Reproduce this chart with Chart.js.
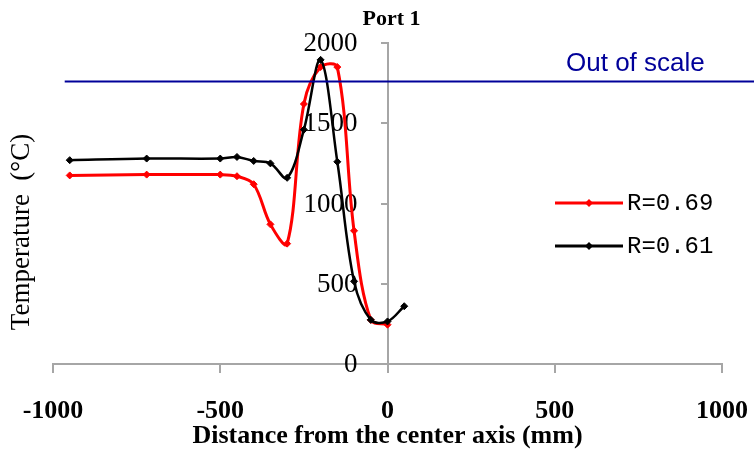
<!DOCTYPE html>
<html>
<head>
<meta charset="utf-8">
<script src="https://cdn.jsdelivr.net/npm/chart.js@4.4.1/dist/chart.umd.min.js"></script>
<style>
  html, body { margin: 0; padding: 0; background: #fff; }
  #wrap { position: relative; width: 754px; height: 453px; }
</style>
</head>
<body>
<div id="wrap"><canvas id="port-1"></canvas></div>
<script>
// Values (distance in mm, temperature in C)
const xR069 = [-950, -720, -500, -450, -400, -350, -300, -250, -200, -150, -100, -50, 0];
const tR069 = [1175, 1180, 1180, 1170, 1120, 870, 750, 1620, 1850, 1850, 830, 275, 245];
const xR061 = [-950, -720, -500, -450, -400, -350, -300, -250, -200, -150, -100, -50, 0, 50];
const tR061 = [1270, 1280, 1280, 1290, 1265, 1250, 1160, 1460, 1895, 1260, 515, 275, 265, 360];
const seriesLabels = ['R=0.69', 'R=0.61'];
const xTicks = [-1000, -500, 0, 500, 1000];
const yTicks = [0, 500, 1000, 1500, 2000];
const outOfScale = 1760;

const toPoints = (xs, ys) => xs.map((v, i) => ({ x: v, y: ys[i] }));
const axisGray = '#a6a6a6';
const serif = '"Liberation Serif", "Times New Roman", serif';

// Y tick labels sit well to the left of the centred axis, under the curves
const yLabels = {
  id: 'yLabels',
  beforeDatasetsDraw(c) {
    const { ctx } = c;
    const { x, y } = c.scales;
    const left = x.getPixelForValue(0) - 30;
    ctx.save();
    ctx.fillStyle = '#000';
    ctx.font = `27px ${serif}`;
    ctx.textAlign = 'right';
    ctx.textBaseline = 'middle';
    y.ticks.forEach((t) => {
      ctx.fillText(String(t.value), left, y.getPixelForValue(t.value) + 1);
    });
    ctx.restore();
  },
};

// Title, axis title, "out of scale" line and legend drawn on top
const overlay = {
  id: 'overlay',
  afterDraw(c) {
    const { ctx, chartArea } = c;
    const { x, y } = c.scales;
    ctx.save();
    ctx.fillStyle = '#000';
    ctx.textBaseline = 'middle';
    ctx.textAlign = 'center';
    ctx.font = `bold 22px ${serif}`;
    ctx.fillText('Port 1', (chartArea.left + chartArea.right) / 2 + 4, 19);

    // Out of scale marker
    const yLine = y.getPixelForValue(outOfScale);
    ctx.strokeStyle = '#000099';
    ctx.lineWidth = 2;
    ctx.beginPath();
    ctx.moveTo(x.getPixelForValue(-965), yLine);
    ctx.lineTo(c.width, yLine);
    ctx.stroke();
    ctx.fillStyle = '#000099';
    ctx.textAlign = 'left';
    ctx.font = '26px "Liberation Sans", Arial, sans-serif';
    ctx.fillText('Out of scale', 566, 64);

    // Legend
    ctx.font = '24px "Liberation Mono", "Courier New", monospace';
    c.data.datasets.forEach((ds, i) => {
      const ly = 203 + i * 43;
      ctx.strokeStyle = ds.borderColor;
      ctx.fillStyle = ds.borderColor;
      ctx.lineWidth = 3;
      ctx.beginPath();
      ctx.moveTo(555, ly);
      ctx.lineTo(623, ly);
      ctx.stroke();
      ctx.beginPath();
      ctx.moveTo(589, ly - 4);
      ctx.lineTo(593, ly);
      ctx.lineTo(589, ly + 4);
      ctx.lineTo(585, ly);
      ctx.closePath();
      ctx.fill();
      ctx.fillStyle = '#000';
      ctx.fillText(ds.label, 627, ly + 1);
    });

    // Y axis title
    ctx.translate(22, 232);
    ctx.rotate(-Math.PI / 2);
    ctx.textAlign = 'center';
    ctx.fillStyle = '#000';
    ctx.font = `27px ${serif}`;
    ctx.fillText('Temperature  (\u00B0C)', 0, 0);
    ctx.restore();
  },
};

const ctx = document.getElementById('port-1');
// eslint-disable-next-line no-unused-vars
const chart = new Chart(ctx, {
  type: 'line',
  data: {
    datasets: [
      // Red curve
      {
        label: seriesLabels[0],
        data: toPoints(xR069, tR069),
        borderColor: '#ff0000',
        backgroundColor: '#ff0000',
        borderWidth: 3,
        pointStyle: 'rectRot',
        pointRadius: 3.5,
        pointBorderWidth: 1,
        tension: 0.35,
        order: 2,
      },
      // Black curve
      {
        label: seriesLabels[1],
        data: toPoints(xR061, tR061),
        borderColor: '#000000',
        backgroundColor: '#000000',
        borderWidth: 2.5,
        pointStyle: 'rectRot',
        pointRadius: 3.5,
        pointBorderWidth: 1,
        tension: 0.35,
        order: 1,
      },
    ],
  },
  options: {
    responsive: true,
    maintainAspectRatio: false,
    animation: false,
    layout: {
      padding: { top: 43, left: 53, right: 32, bottom: 0 },
    },
    scales: {
      x: {
        type: 'linear',
        min: -1000,
        max: 1000,
        afterBuildTicks: (s) => { s.ticks = xTicks.map((v) => ({ value: v })); },
        afterFit: (s) => {
          s.height = 89;
          s.paddingLeft = 0;
          s.paddingRight = 0;
        },
        grid: {
          drawOnChartArea: false,
          tickLength: 9,
          color: axisGray,
          lineWidth: 2,
        },
        border: { color: axisGray, width: 2 },
        ticks: {
          padding: 23,
          color: '#000',
          maxRotation: 0,
          autoSkip: false,
          callback: (v) => String(v),
          font: { family: serif, size: 26, weight: 'bold' },
        },
        title: {
          display: true,
          text: 'Distance from the center axis (mm)',
          color: '#000',
          font: { family: serif, size: 26, weight: 'bold' },
          padding: { top: 0, bottom: 1 },
        },
      },
      y: {
        position: { x: 0 },
        min: 0,
        max: 2000,
        afterBuildTicks: (s) => { s.ticks = yTicks.map((v) => ({ value: v })); },
        grid: {
          drawOnChartArea: false,
          tickLength: 6,
          color: axisGray,
          lineWidth: 2,
        },
        border: { color: axisGray, width: 2 },
        ticks: { display: false },
      },
    },
    plugins: {
      legend: { display: false },
      tooltip: { enabled: false },
    },
  },
  plugins: [yLabels, overlay],
});
</script>
</body>
</html>
